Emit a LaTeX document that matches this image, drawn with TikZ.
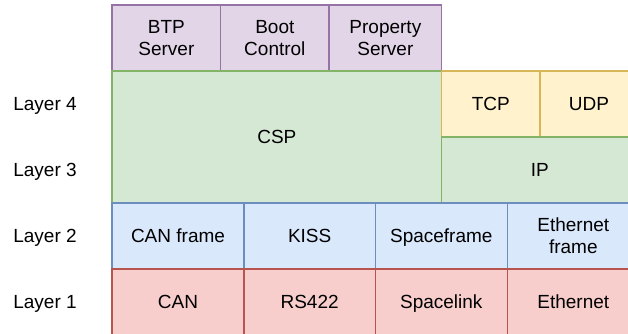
\documentclass[tikz,border=0pt]{standalone}
\usepackage{fontspec}
\setmainfont{Liberation Sans}
\usetikzlibrary{positioning}

\definecolor{appfill}{HTML}{E1D5E7}
\definecolor{appline}{HTML}{9673A6}
\definecolor{netfill}{HTML}{D5E8D4}
\definecolor{netline}{HTML}{82B366}
\definecolor{trnfill}{HTML}{FFF2CC}
\definecolor{trnline}{HTML}{D6B656}
\definecolor{lnkfill}{HTML}{DAE8FC}
\definecolor{lnkline}{HTML}{6C8EBF}
\definecolor{phyfill}{HTML}{F8CECC}
\definecolor{phyline}{HTML}{B85450}

\begin{document}
\begin{tikzpicture}[x=1pt,y=-1pt,
        layer/.style={draw,outer sep=0pt,inner sep=0pt,minimum height=66pt,
            align=center,line width=1.2pt,font=\fontsize{19}{22}\selectfont},
        oneline/.style={text height=13.6pt,text depth=0pt},
        appbox/.style={layer,fill=appfill,draw=appline},
        netbox/.style={layer,oneline,fill=netfill,draw=netline},
        trnbox/.style={layer,oneline,fill=trnfill,draw=trnline},
        lnkbox/.style={layer,fill=lnkfill,draw=lnkline},
        phybox/.style={layer,oneline,fill=phyfill,draw=phyline},
        lbl/.style={font=\fontsize{19}{22}\selectfont,text height=13.6pt,text depth=0pt}]
        \useasboundingbox (0,0) rectangle (628,333);
        \clip (0,0) rectangle (628,333);

        % applications on top
        \node[appbox,minimum width=108.7pt,anchor=north west] (btp) at (112,5) {BTP\\Server};
        \node[appbox,minimum width=108.3pt,right=0pt of btp] (boot) {Boot\\Control};
        \node[appbox,minimum width=112.7pt,right=0pt of boot] (prop) {Property\\Server};

        % network layer and transport
        \node[netbox,minimum width=329.7pt,minimum height=132pt,anchor=north west] (csp) at (btp.south west) {CSP};
        \node[trnbox,minimum width=98.3pt,anchor=north west] (tcp) at (csp.north east) {TCP};
        \node[trnbox,minimum width=98pt,right=0pt of tcp] (udp) {UDP};
        \node[netbox,minimum width=196.3pt,anchor=north west] (ip) at (tcp.south west) {IP};

        % data link layer
        \node[lnkbox,oneline,minimum width=132pt,anchor=north west] (canframe) at (csp.south west) {CAN frame};
        \node[lnkbox,oneline,minimum width=131.3pt,right=0pt of canframe] (kiss) {KISS};
        \node[lnkbox,oneline,minimum width=132pt,right=0pt of kiss] (spaceframe) {Spaceframe};
        \node[lnkbox,minimum width=132pt,right=0pt of spaceframe] (ethframe) {Ethernet\\frame};

        % physical layer
        \node[phybox,minimum width=132pt,below=0pt of canframe] (can) {CAN};
        \node[phybox,minimum width=131.3pt,right=0pt of can] (rs) {RS422};
        \node[phybox,minimum width=132pt,right=0pt of rs] (spacelink) {Spacelink};
        \node[phybox,minimum width=132pt,right=0pt of spacelink] (eth) {Ethernet};

        % layer names
        \node[lbl] (l4) at (45,104) {Layer 4};
        \node[lbl] (l3) at (45,170) {Layer 3};
        \node[lbl] (l2) at (45,236) {Layer 2};
        \node[lbl] (l1) at (45,302) {Layer 1};
\end{tikzpicture}
\end{document}
